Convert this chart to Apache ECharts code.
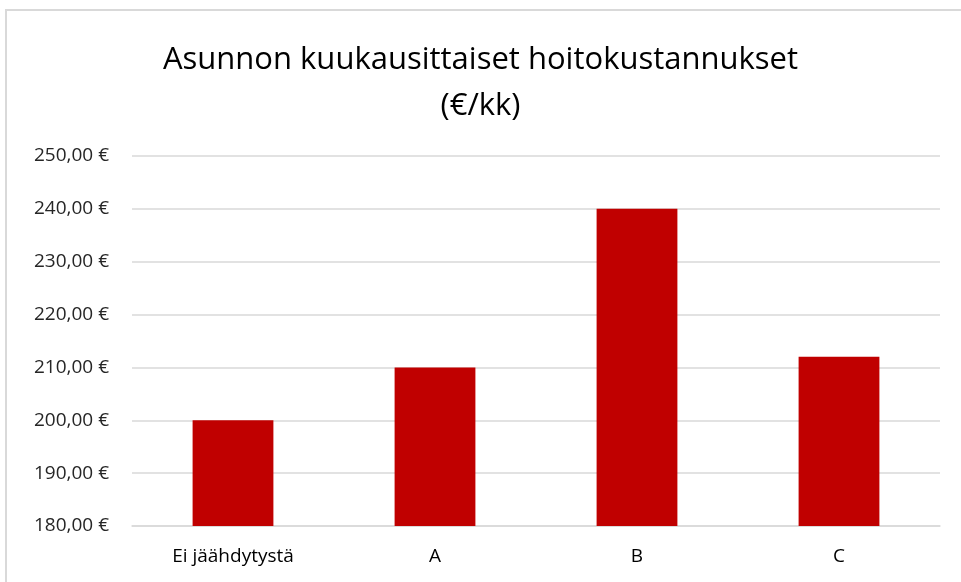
<!DOCTYPE html>
<html>
<head>
<meta charset="utf-8">
<script src="https://cdn.jsdelivr.net/npm/echarts@6/dist/echarts.min.js"></script>
<style>
  html, body { margin: 0; padding: 0; background: #fff; }
  #chart { width: 961px; height: 582px; }
</style>
</head>
<body>
<div id="chart"></div>
<script>
const categories = ['Ei jäähdytystä', 'A', 'B', 'C'];
const costs = [200, 210, 240, 212];
const yMin = 180;
const yMax = 250;
const yStep = 10;

const fontFamily = '"Open Sans", "Noto Sans", sans-serif';

const myChart = echarts.init(document.getElementById('chart'));
myChart.setOption({
  animation: false,
  textStyle: { fontFamily },
  graphic: [{
    type: 'rect',
    shape: { x: 6, y: 10, width: 1000, height: 620 },
    style: { fill: 'none', stroke: '#d9d9d9', lineWidth: 2 },
  }],
  title: {
    text: 'Asunnon kuukausittaiset hoitokustannukset\n(€/kk)',
    left: 'center',
    top: 32,
    textStyle: {
      fontFamily,
      fontSize: 31,
      fontWeight: 'normal',
      color: '#000',
      lineHeight: 46,
    },
  },
  grid: {
    left: 132,
    right: 21,
    top: 156,
    bottom: 56,
  },
  xAxis: {
    type: 'category',
    data: categories,
    axisLine: { lineStyle: { color: '#d9d9d9', width: 1.5 } },
    axisTick: { show: false },
    axisLabel: { fontSize: 19, color: '#000', margin: 21 },
  },
  yAxis: {
    type: 'value',
    min: yMin,
    max: yMax,
    interval: yStep,
    axisLine: { show: false },
    axisTick: { show: false },
    splitLine: { lineStyle: { color: '#d9d9d9', width: 1.5 } },
    axisLabel: {
      fontSize: 19,
      color: '#262626',
      margin: 23,
      formatter: (v) => v.toFixed(2).replace('.', ',') + ' €',
    },
  },
  series: [{
    type: 'bar',
    data: costs,
    barWidth: '40%',
    itemStyle: { color: '#C00000' },
  }],
});
</script>
</body>
</html>
